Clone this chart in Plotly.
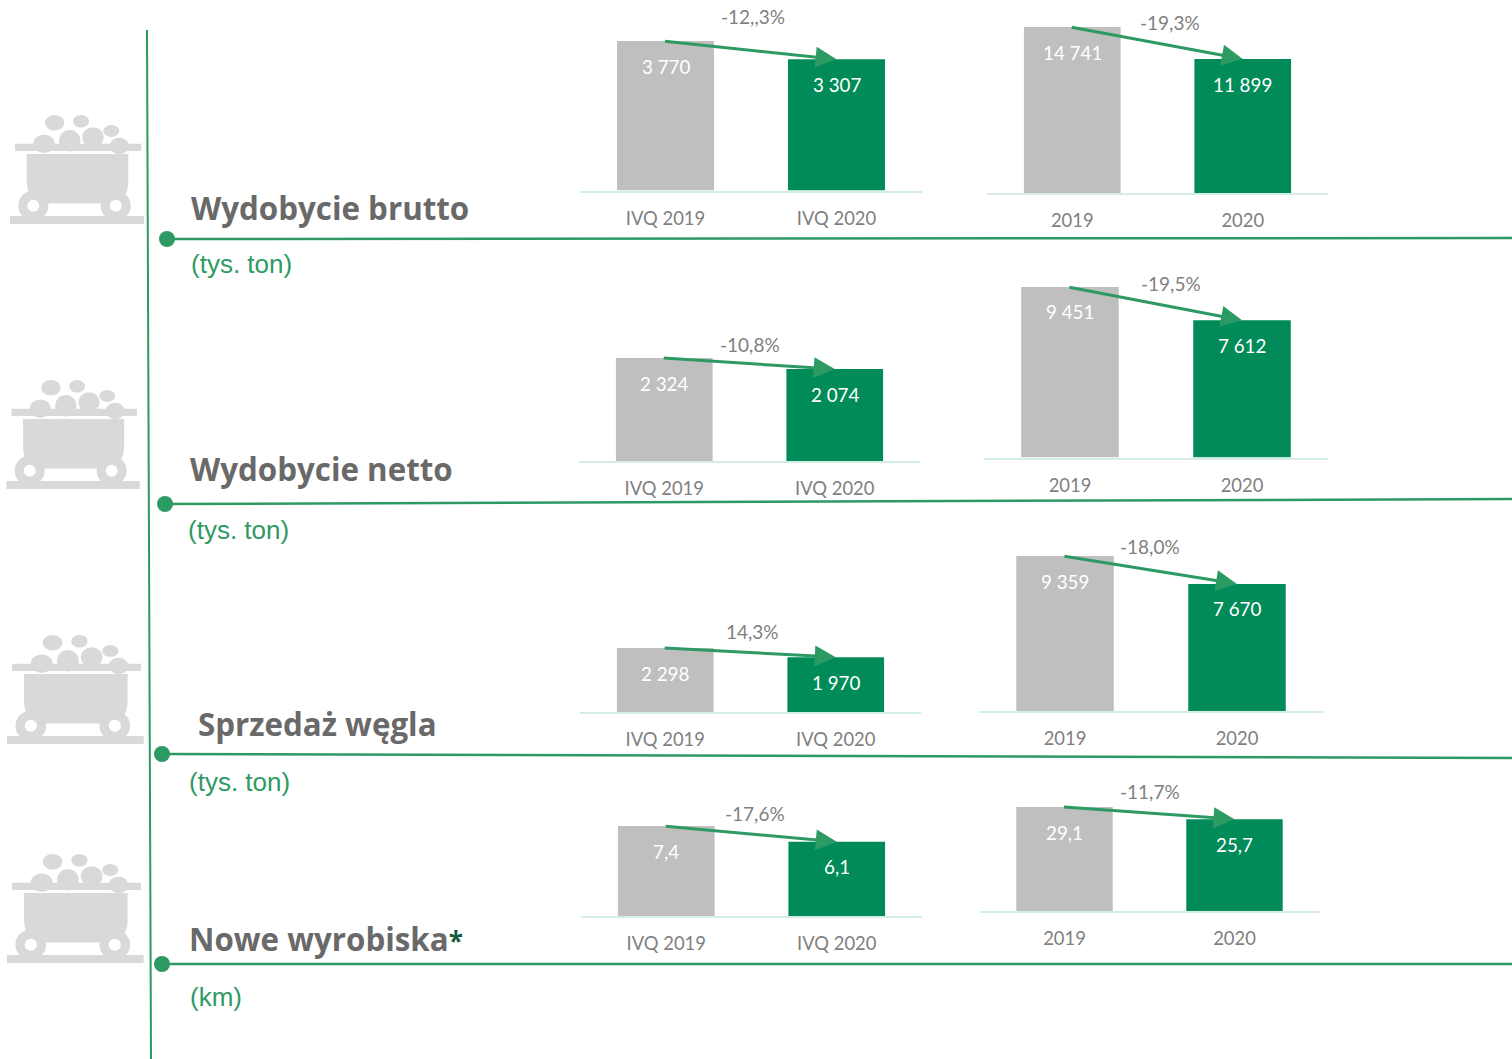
import plotly.graph_objects as go

W, H = 1512, 1059
GREEN = "#2e9a63"
BAR_GREY = "#bfbfbf"
BAR_GREEN = "#008b59"
TEXT_GREY = "#7f7f7f"
TITLE_GREY = "#696969"
CART = "#d9d9d9"
AXIS = "#d5eee5"
LABEL_FONT = "Lato"

# ---- data ----
quarter_labels = ["IVQ 2019", "IVQ 2020"]
year_labels = ["2019", "2020"]

brutto_q = [3770, 3307]
brutto_y = [14741, 11899]
netto_q = [2324, 2074]
netto_y = [9451, 7612]
sprzedaz_q = [2298, 1970]
sprzedaz_y = [9359, 7670]
wyrobiska_q = [7.4, 6.1]
wyrobiska_y = [29.1, 25.7]

brutto_q_text = ["3 770", "3 307"]
brutto_y_text = ["14 741", "11 899"]
netto_q_text = ["2 324", "2 074"]
netto_y_text = ["9 451", "7 612"]
sprzedaz_q_text = ["2 298", "1 970"]
sprzedaz_y_text = ["9 359", "7 670"]
wyrobiska_q_text = ["7,4", "6,1"]
wyrobiska_y_text = ["29,1", "25,7"]

change_labels = ["-12,,3%", "-19,3%", "-10,8%", "-19,5%", "14,3%", "-18,0%", "-17,6%", "-11,7%"]
titles = ["Wydobycie brutto", "Wydobycie netto", "Sprzedaż węgla", "Nowe wyrobiska"]
units = ["(tys. ton)", "(tys. ton)", "(tys. ton)", "(km)"]

# ---- layout (pixels) ----
panels = [
    (brutto_q, brutto_q_text, quarter_labels, 580, 922, 190.5, 41, 753, 17),
    (brutto_y, brutto_y_text, year_labels, 987, 1328, 193, 27, 1170, 23),
    (netto_q, netto_q_text, quarter_labels, 579, 920, 461, 358, 750, 344),
    (netto_y, netto_y_text, year_labels, 984, 1328, 457.5, 287, 1171, 283),
    (sprzedaz_q, sprzedaz_q_text, quarter_labels, 580, 921, 712, 648, 752, 631),
    (sprzedaz_y, sprzedaz_y_text, year_labels, 979, 1323, 711, 556, 1150, 546),
    (wyrobiska_q, wyrobiska_q_text, quarter_labels, 581, 922, 916, 826, 755, 813),
    (wyrobiska_y, wyrobiska_y_text, year_labels, 979.5, 1319.5, 911, 807, 1150, 791),
]


def px(x):
    return x / W


def py(y):
    return 1 - y / H


fig = go.Figure()
annotations, shapes = [], []
layout_axes = {}

for i, (vals, texts, cats, x0, x1, base, top, pct_x, pct_y) in enumerate(panels, start=1):
    xa, ya = f"x{i}", f"y{i}"
    fig.add_trace(go.Bar(
        x=cats, y=vals, xaxis=xa, yaxis=ya,
        marker=dict(color=[BAR_GREY, BAR_GREEN], line_width=0),
        hoverinfo="skip", showlegend=False,
    ))
    layout_axes[f"xaxis{i}"] = dict(
        domain=[px(x0), px(x1)], anchor=ya, type="category", range=[-0.5, 1.5],
        showline=True, linecolor=AXIS, linewidth=2, showgrid=False, zeroline=False,
        ticks="", ticklabelstandoff=10,
        tickfont=dict(family=LABEL_FONT, size=18.4, color=TEXT_GREY),
    )
    layout_axes[f"yaxis{i}"] = dict(
        domain=[py(base), py(top)], anchor=xa, range=[0, max(vals)], visible=False,
    )
    for j, (v, t) in enumerate(zip(vals, texts)):
        annotations.append(dict(
            x=j, y=v, xref=xa, yref=ya, text=t, showarrow=False, yshift=-25,
            xanchor="center", yanchor="middle",
            font=dict(family=LABEL_FONT, size=18.8, color="white"),
        ))
    annotations.append(dict(
        x=1, y=vals[1], ax=-0.012, ay=vals[0],
        xref=xa, yref=ya, axref=xa, ayref=ya, text="", showarrow=True,
        arrowhead=2, arrowsize=1.4, arrowwidth=3, arrowcolor=GREEN,
    ))
    annotations.append(dict(
        x=px(pct_x), y=py(pct_y), xref="paper", yref="paper", text=change_labels[i - 1],
        xanchor="center", yanchor="middle",
        showarrow=False, font=dict(family=LABEL_FONT, size=19, color=TEXT_GREY),
    ))

# ---- titles, units ----
title_pos = [(189, 208), (188, 469), (196, 724), (187, 939)]
unit_pos = [(188.5, 264), (185.5, 530), (186.5, 782), (187.5, 997)]
for k in range(4):
    extra = '<span style="color:#17593c;font-size:26px">*</span>' if k == 3 else ""
    annotations.append(dict(
        x=px(title_pos[k][0]), y=py(title_pos[k][1]), xref="paper", yref="paper",
        xanchor="left", yanchor="middle", showarrow=False, text=f"<b>{titles[k]}{extra}</b>",
        font=dict(family="Open Sans", size=31.3, color=TITLE_GREY),
    ))
    annotations.append(dict(
        x=px(unit_pos[k][0]), y=py(unit_pos[k][1]), xref="paper", yref="paper",
        xanchor="left", yanchor="middle", showarrow=False, text=units[k],
        font=dict(family="Liberation Sans", size=26, color=GREEN),
    ))


# ---- rules and dots ----
def line(x0, y0, x1, y1, width=2.5):
    shapes.append(dict(type="line", xref="paper", yref="paper", x0=px(x0), y0=py(y0), x1=px(x1), y1=py(y1),
                       line=dict(color=GREEN, width=width)))


def ellipse(cx, cy, rx, ry, color):
    shapes.append(dict(type="circle", xref="paper", yref="paper",
                       x0=px(cx - rx), x1=px(cx + rx), y0=py(cy + ry), y1=py(cy - ry),
                       fillcolor=color, line_width=0))


def rect(x0, y0, x1, y1, color):
    shapes.append(dict(type="rect", xref="paper", yref="paper", x0=px(x0), x1=px(x1), y0=py(y1), y1=py(y0),
                       fillcolor=color, line_width=0))


line(147, 30, 151, 1059, 2)
for (dx, dy, ex, ey) in [(167, 239, 1512, 238), (165, 504, 1512, 499), (162, 754, 1512, 758), (162, 964, 1512, 964)]:
    line(dx, dy, ex, ey)
    ellipse(dx, dy, 8, 8, GREEN)


# ---- mine carts ----
def cart(ox, oy, s):
    X = lambda v: ox + s * v
    Y = lambda v: oy + v
    for cx, cy, rx, ry in [(54.7, 122.7, 9.7, 7.7), (81, 121.3, 8, 6.3), (111.3, 131, 8, 6)]:
        ellipse(X(cx), Y(cy), s * rx, ry, CART)
    rect(X(10), Y(216), X(144), Y(224), CART)
    rect(X(15), Y(143.7), X(141.3), Y(151), CART)
    for cx, cy, rx, ry in [(44, 143.7, 10.7, 9.3), (69.7, 140.7, 10.7, 10.7), (93, 137.3, 10.7, 10), (119.3, 146, 9.7, 8.3)]:
        ellipse(X(cx), Y(cy), s * rx, ry, CART)
    body = (f"M {px(X(26.7))} {py(Y(154))} L {px(X(128.3))} {py(Y(154))} L {px(X(128.3))} {py(Y(180))} "
            f"Q {px(X(128.3))} {py(Y(203.5))} {px(X(108))} {py(Y(203.5))} L {px(X(46))} {py(Y(203.5))} "
            f"Q {px(X(26.7))} {py(Y(203.5))} {px(X(26.7))} {py(Y(180))} Z")
    shapes.append(dict(type="path", xref="paper", yref="paper", path=body, fillcolor=CART, line_width=0))
    for cx in (33.3, 115.7):
        ellipse(X(cx), Y(205.7), s * 15, 15, CART)
        ellipse(X(cx), Y(205.7), s * 6, 6, "white")


cart(0, 0, 1)
cart(-3.5, 265, 0.995)
cart(-3.2, 520, 1.02)
cart(-3.2, 739, 1.02)

fig.update_layout(
    width=W, height=H, autosize=False, margin=dict(l=0, r=0, t=0, b=0, pad=0),
    paper_bgcolor="white", plot_bgcolor="white", barmode="overlay", bargap=0.433,
    annotations=annotations, shapes=shapes, **layout_axes,
)
fig.write_html("out.html", config={"displayModeBar": False},
               post_script="document.body.style.margin='0';document.body.style.overflow='hidden';")
